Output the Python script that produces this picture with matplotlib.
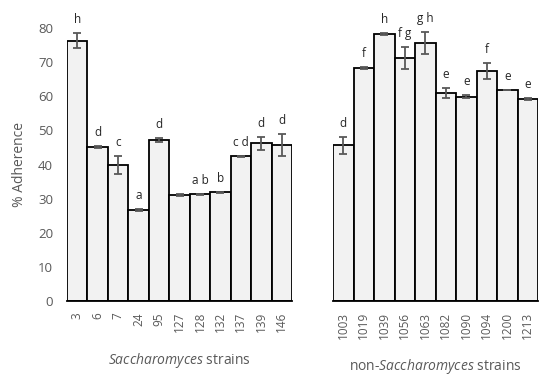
import matplotlib
matplotlib.use("Agg")
import matplotlib.pyplot as plt

plt.rcParams['font.family'] = ['Open Sans', 'DejaVu Sans']
plt.rcParams['mathtext.fontset'] = 'custom'
plt.rcParams['mathtext.it'] = 'Open Sans:italic'
plt.rcParams['mathtext.rm'] = 'Open Sans'

# Saccharomyces strains
sac_strains = ['3', '6', '7', '24', '95', '127', '128', '132', '137', '139', '146']
sac_values = [76.3, 45.0, 39.8, 26.7, 47.1, 31.1, 31.3, 31.8, 42.4, 46.2, 45.7]
sac_err = [2.2, 0.3, 2.7, 0.2, 0.6, 0.2, 0.2, 0.2, 0.2, 1.9, 3.2]
sac_letters = ['h', 'd', 'c', 'a', 'd', '', 'a b', 'b', 'c d', 'd', 'd']

# non-Saccharomyces strains
non_strains = ['1003', '1019', '1039', '1056', '1063', '1082', '1090', '1094', '1200', '1213']
non_values = [45.6, 68.2, 78.3, 71.2, 75.6, 60.9, 59.9, 67.4, 61.8, 59.3]
non_err = [2.5, 0.3, 0.3, 3.2, 3.1, 1.4, 0.4, 2.3, 0.1, 0.3]
non_letters = ['d', 'f', 'h', 'f g', 'g h', 'e', 'e', 'f', 'e', 'e']

gray = '#595959'
fig = plt.figure(figsize=(5.5, 3.75), dpi=100)
ax1 = fig.add_axes([67/550, 74/375, 225/550, 273/375])
ax2 = fig.add_axes([333/550, 74/375, 205/550, 273/375])


def draw(ax, names, vals, errs, letters):
    x = list(range(len(names)))
    ax.bar(x, vals, width=1.0, color='#f2f2f2', edgecolor='black', linewidth=1.3)
    ax.errorbar(x, vals, yerr=errs, fmt='none', ecolor=gray, elinewidth=1.3,
                capsize=3, capthick=1.3)
    for xi, v, e, t in zip(x, vals, errs, letters):
        if t:
            ax.annotate(t, (xi, v + e), xytext=(0, 5), textcoords='offset points',
                        ha='center', va='bottom', fontsize=8.5, color='#262626',
                        annotation_clip=False)
    ax.set_xlim(-0.5, len(names) - 0.5)
    ax.set_ylim(0, 80)
    ax.set_xticks(x)
    ax.set_xticklabels(names, rotation=90, fontsize=8.5, color=gray)
    ax.tick_params(axis='x', length=0, pad=8)
    for s in ['top', 'right', 'left']:
        ax.spines[s].set_visible(False)
    ax.spines['bottom'].set_linewidth(1.3)


draw(ax1, sac_strains, sac_values, sac_err, sac_letters)
draw(ax2, non_strains, non_values, non_err, non_letters)

ax1.set_yticks(range(0, 81, 10))
ax1.tick_params(axis='y', length=0, labelsize=9.5, labelcolor=gray, pad=10)
ax1.set_ylabel('% Adherence', fontsize=10, color=gray, labelpad=8)
ax2.set_yticks([])

ax1.set_xlabel(r'$\it{Saccharomyces}$ strains', fontsize=10, color=gray, labelpad=13)
ax2.set_xlabel(r'non-$\it{Saccharomyces}$ strains', fontsize=10, color=gray, labelpad=13)

fig.savefig('out.png', dpi=100)
